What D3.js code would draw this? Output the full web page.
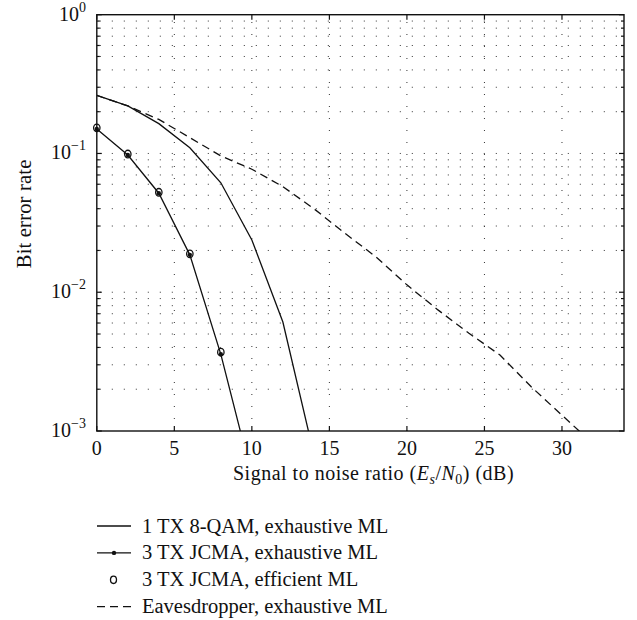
<!DOCTYPE html>
<html>
<head>
<meta charset="utf-8">
<script src="https://cdn.jsdelivr.net/npm/d3@7"></script>
<style>
  body { margin: 0; background: #fff; }
  text { font-family: "Liberation Serif", "DejaVu Serif", serif; fill: #111; }
</style>
</head>
<body>
<div id="ber-chart"></div>
<script>
// data (SNR in dB, BER)
const snrQam = [0, 2, 4, 6, 8, 10, 12, 14];
const berQam = [0.262, 0.22, 0.164, 0.110, 0.0615, 0.0238, 0.0061, 0.00068];

const snrJcmaExh = [0, 2, 4, 6, 8, 10];
const berJcmaExh = [0.150, 0.0975, 0.0517, 0.0186, 0.00357, 0.00047];

const snrJcmaEff = [0, 2, 4, 6, 8];
const berJcmaEff = [0.153, 0.099, 0.0525, 0.0189, 0.0037];

const snrEaves = [0, 2, 4, 6, 8, 10, 12, 14, 16, 18, 20, 22, 24, 26, 28, 30, 32];
const berEaves = [0.262, 0.22, 0.176, 0.13, 0.096, 0.077, 0.0577, 0.040, 0.0266, 0.018,
                  0.0113, 0.00746, 0.00506, 0.00353, 0.00209, 0.0013, 0.00081];

const xTicks = [0, 5, 10, 15, 20, 25, 30];
const yDecades = [-3, -2, -1, 0];
const legendLabels = ["1 TX 8-QAM, exhaustive ML", "3 TX JCMA, exhaustive ML",
                      "3 TX JCMA, efficient ML", "Eavesdropper, exhaustive ML"];

/* layout */
const width = 637, height = 620;
const plot = { left: 96.8, right: 624, top: 14.7, bottom: 431 };

const svg = d3.select("#ber-chart").append("svg")
    .attr("width", width)
    .attr("height", height);

const x = d3.scaleLinear().domain([0, 34]).range([plot.left, plot.right]);
const y = d3.scaleLog().domain([1e-3, 1]).range([plot.bottom, plot.top]);

// minor y values 2..9 x 10^k
let minorY = [];
for (let k = -3; k < 0; k++) {
    for (let m = 2; m <= 9; m++) minorY.push(m * Math.pow(10, k));
}

// dotted grid
const grid = svg.append("g")
    .attr("stroke", "#333")
    .attr("stroke-width", 1)
    .attr("stroke-dasharray", "1,11");

grid.selectAll("line.gx")
    .data(xTicks.filter(d => d > 0))
    .enter().append("line")
        .attr("x1", d => x(d)).attr("x2", d => x(d))
        .attr("y1", plot.bottom).attr("y2", plot.top);

grid.selectAll("line.gy")
    .data(minorY.concat([1e-2, 1e-1]))
    .enter().append("line")
        .attr("x1", plot.left + 3).attr("x2", plot.right)
        .attr("y1", d => y(d)).attr("y2", d => y(d));

// clip curves to the axes box
svg.append("clipPath").attr("id", "plot-clip")
    .append("rect")
        .attr("x", plot.left).attr("y", plot.top)
        .attr("width", plot.right - plot.left)
        .attr("height", plot.bottom - plot.top);

const line = d3.line().x(d => x(d[0])).y(d => y(d[1]));
const curves = svg.append("g").attr("clip-path", "url(#plot-clip)")
    .attr("fill", "none").attr("stroke", "#111").attr("stroke-width", 1.3);

curves.append("path").attr("d", line(d3.zip(snrQam, berQam)));
curves.append("path").attr("d", line(d3.zip(snrJcmaExh, berJcmaExh)));
curves.append("path").attr("d", line(d3.zip(snrEaves, berEaves)))
    .attr("stroke-dasharray", "8,5");

// point markers on JCMA exhaustive
svg.append("g").selectAll("circle")
    .data(d3.zip(snrJcmaExh, berJcmaExh).filter(d => d[1] >= 1e-3))
    .enter().append("circle")
        .attr("cx", d => x(d[0])).attr("cy", d => y(d[1]))
        .attr("r", 2.2).attr("fill", "#111");

// open circles for efficient ML
svg.append("g").selectAll("ellipse")
    .data(d3.zip(snrJcmaEff, berJcmaEff))
    .enter().append("ellipse")
        .attr("cx", d => x(d[0])).attr("cy", d => y(d[1]))
        .attr("rx", 3.2).attr("ry", 3.8)
        .attr("fill", "none").attr("stroke", "#111").attr("stroke-width", 1.3);

// axes box
svg.append("rect")
    .attr("x", plot.left).attr("y", plot.top)
    .attr("width", plot.right - plot.left)
    .attr("height", plot.bottom - plot.top)
    .attr("fill", "none").attr("stroke", "#111").attr("stroke-width", 1.4);

// inward ticks
const ticks = svg.append("g").attr("stroke", "#111").attr("stroke-width", 1.2);
xTicks.forEach(t => {
    ticks.append("line").attr("x1", x(t)).attr("x2", x(t))
        .attr("y1", plot.bottom).attr("y2", plot.bottom - 5);
    ticks.append("line").attr("x1", x(t)).attr("x2", x(t))
        .attr("y1", plot.top).attr("y2", plot.top + 5);
});
yDecades.map(k => Math.pow(10, k)).forEach(v => {
    ticks.append("line").attr("x1", plot.left).attr("x2", plot.left + 5)
        .attr("y1", y(v)).attr("y2", y(v));
    ticks.append("line").attr("x1", plot.right).attr("x2", plot.right - 5)
        .attr("y1", y(v)).attr("y2", y(v));
});
minorY.forEach(v => {
    ticks.append("line").attr("x1", plot.left).attr("x2", plot.left + 3)
        .attr("y1", y(v)).attr("y2", y(v));
    ticks.append("line").attr("x1", plot.right).attr("x2", plot.right - 3)
        .attr("y1", y(v)).attr("y2", y(v));
});

// tick labels
svg.append("g").selectAll("text")
    .data(xTicks)
    .enter().append("text")
        .attr("x", d => x(d)).attr("y", plot.bottom + 24)
        .attr("text-anchor", "middle")
        .style("font-size", "20px")
        .text(d => d);

const yLab = svg.append("g").selectAll("text")
    .data(yDecades)
    .enter().append("text")
        .attr("x", 86).attr("y", d => y(Math.pow(10, d)) + 6)
        .attr("text-anchor", "end")
        .style("font-size", "20px");
yLab.append("tspan").text("10");
yLab.append("tspan")
    .attr("dy", -9)
    .style("font-size", "14px")
    .text(d => d === 0 ? "0" : "\u2212" + Math.abs(d));

// axis titles
svg.append("text")
    .attr("transform", "translate(31," + ((plot.top + plot.bottom) / 2 - 9) + ") rotate(-90)")
    .attr("text-anchor", "middle")
    .style("font-size", "20.5px")
    .style("letter-spacing", "0.2px")
    .text("Bit error rate");

const xTitle = svg.append("text")
    .attr("x", 233).attr("y", 480)
    .style("font-size", "20px")
    .style("letter-spacing", "0.5px");
xTitle.append("tspan").text("Signal to noise ratio (");
xTitle.append("tspan").style("font-style", "italic").text("E");
xTitle.append("tspan").attr("dy", 4).style("font-size", "14px").style("font-style", "italic").text("s");
xTitle.append("tspan").attr("dy", -4).text("/");
xTitle.append("tspan").style("font-style", "italic").text("N");
xTitle.append("tspan").attr("dy", 4).style("font-size", "14px").text("0");
xTitle.append("tspan").attr("dy", -4).text(") (dB)");

// legend
const legend = svg.append("g");
const rowY = i => 526 + i * 26.9;
legendLabels.forEach((label, i) => {
    const g = legend.append("g").attr("transform", "translate(0," + rowY(i) + ")");
    if (i !== 2) {
        g.append("line")
            .attr("x1", 97).attr("x2", 131).attr("y1", 0).attr("y2", 0)
            .attr("stroke", "#111").attr("stroke-width", 1.3)
            .attr("stroke-dasharray", i === 3 ? "8,5" : null);
    }
    if (i === 1) {
        g.append("circle").attr("cx", 114).attr("cy", 0).attr("r", 2.2).attr("fill", "#111");
    }
    if (i === 2) {
        g.append("ellipse").attr("cx", 113.5).attr("cy", 0).attr("rx", 3).attr("ry", 3.7)
            .attr("fill", "none").attr("stroke", "#111").attr("stroke-width", 1.3);
    }
    g.append("text")
        .attr("x", 142).attr("y", 6.5)
        .style("font-size", "20.5px")
        .text(label);
});
</script>
</body>
</html>
